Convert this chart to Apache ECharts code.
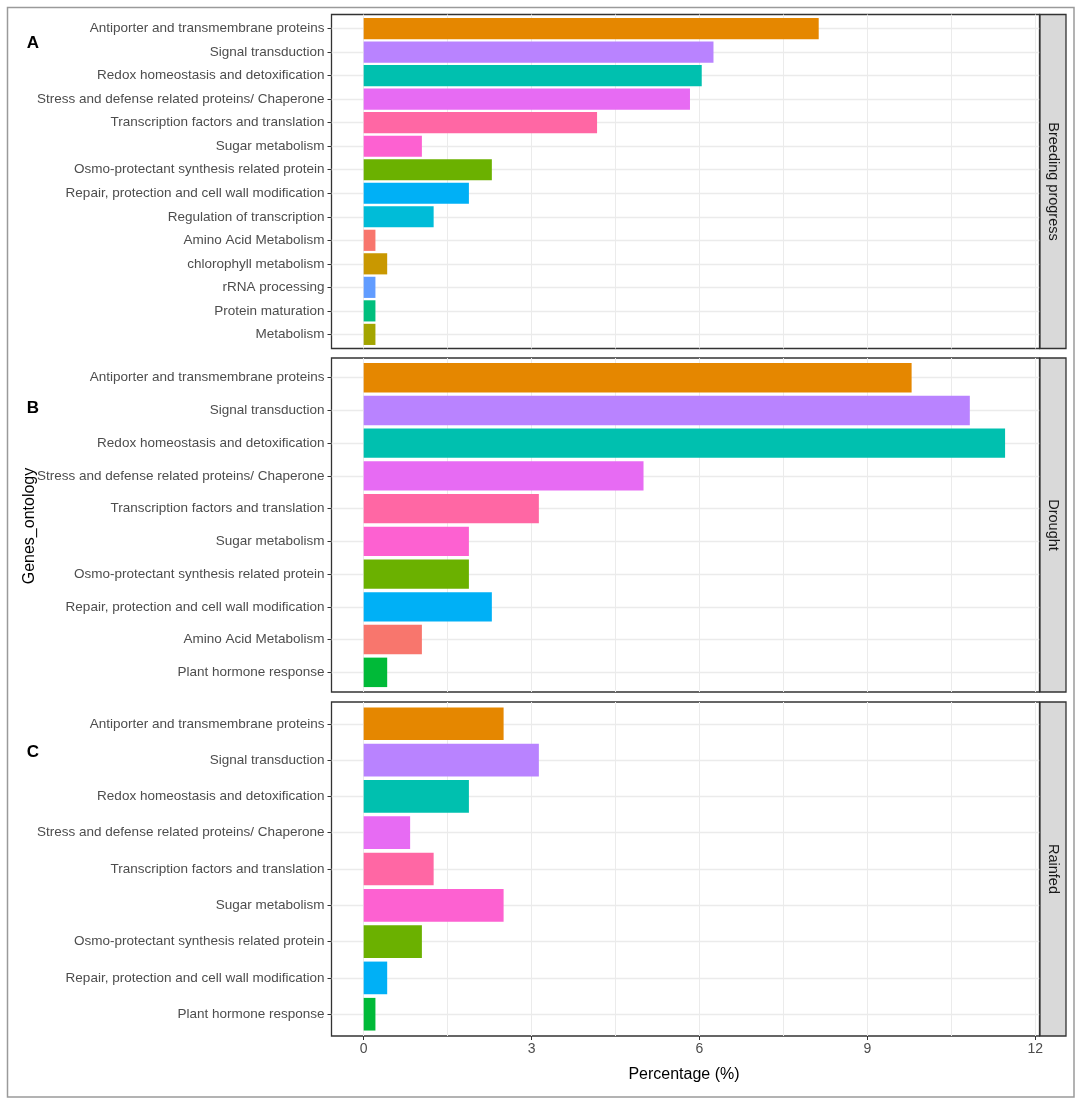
<!DOCTYPE html>
<html><head><meta charset="utf-8">
<script src="https://cdn.jsdelivr.net/npm/echarts@6/dist/echarts.min.js"></script>
<style>html,body{margin:0;padding:0;background:#fff}#c{width:1084px;height:1105px}</style>
</head><body><div id="c"></div>
<script>
// ---------------- data ----------------
const catsBreeding = [
  'Antiporter and transmembrane proteins',
  'Signal transduction',
  'Redox homeostasis and detoxification',
  'Stress and defense related proteins/ Chaperone',
  'Transcription factors and translation',
  'Sugar metabolism',
  'Osmo-protectant synthesis related protein',
  'Repair, protection and cell wall modification',
  'Regulation of transcription',
  'Amino Acid Metabolism',
  'chlorophyll metabolism',
  'rRNA processing',
  'Protein maturation',
  'Metabolism'
];
const valsBreeding = [8.13, 6.25, 6.04, 5.83, 4.17, 1.04, 2.29, 1.88, 1.25, 0.21, 0.42, 0.21, 0.21, 0.21];

const catsDrought = [
  'Antiporter and transmembrane proteins',
  'Signal transduction',
  'Redox homeostasis and detoxification',
  'Stress and defense related proteins/ Chaperone',
  'Transcription factors and translation',
  'Sugar metabolism',
  'Osmo-protectant synthesis related protein',
  'Repair, protection and cell wall modification',
  'Amino Acid Metabolism',
  'Plant hormone response'
];
const valsDrought = [9.79, 10.83, 11.46, 5.0, 3.13, 1.88, 1.88, 2.29, 1.04, 0.42];

const catsRainfed = [
  'Antiporter and transmembrane proteins',
  'Signal transduction',
  'Redox homeostasis and detoxification',
  'Stress and defense related proteins/ Chaperone',
  'Transcription factors and translation',
  'Sugar metabolism',
  'Osmo-protectant synthesis related protein',
  'Repair, protection and cell wall modification',
  'Plant hormone response'
];
const valsRainfed = [2.5, 3.13, 1.88, 0.83, 1.25, 2.5, 1.04, 0.42, 0.21];

const facetNames = ['Breeding progress', 'Drought', 'Rainfed'];
const panelLetters = ['A', 'B', 'C'];
const xTickValues = [0, 3, 6, 9, 12];
const xGridValues = [0, 1.5, 3, 4.5, 6, 7.5, 9, 10.5, 12];
const xTitle = 'Percentage (%)';
const yTitle = 'Genes_ontology';

// ---------------- styles ----------------
const colorMap = {
  'Amino Acid Metabolism': '#F8766D',
  'Antiporter and transmembrane proteins': '#E58700',
  'chlorophyll metabolism': '#C99800',
  'Metabolism': '#A3A500',
  'Osmo-protectant synthesis related protein': '#6BB100',
  'Plant hormone response': '#00BA38',
  'Protein maturation': '#00BF7D',
  'Redox homeostasis and detoxification': '#00C0AF',
  'Regulation of transcription': '#00BCD8',
  'Repair, protection and cell wall modification': '#00B0F6',
  'rRNA processing': '#619CFF',
  'Signal transduction': '#B983FF',
  'Stress and defense related proteins/ Chaperone': '#E76BF3',
  'Sugar metabolism': '#FD61D1',
  'Transcription factors and translation': '#FF67A4'
};
const SANS = '"Liberation Sans",Arial,sans-serif';
const XMIN = -0.575, XMAX = 12.075;
const PL = 331.5, PW = 708, PH = 334;
const panelTops = [14.5, 358, 702];
const STRIP_W = 26;

const panels = [
  {cats: catsBreeding, vals: valsBreeding},
  {cats: catsDrought, vals: valsDrought},
  {cats: catsRainfed, vals: valsRainfed}
];

const grid = [], xAxis = [], yAxis = [], series = [], graphic = [];

// outer grids: border + vertical gridlines
panels.forEach((p, i) => {
  grid.push({left: PL, top: panelTops[i], width: PW, height: PH, show: true,
    borderColor: '#333333', borderWidth: 1.3, backgroundColor: 'transparent'});
  xAxis.push({gridIndex: i, type: 'value', min: XMIN, max: XMAX,
    axisLine: {show: false, onZero: false}, axisLabel: {show: false},
    axisTick: {show: false, customValues: xGridValues},
    splitLine: {show: true, lineStyle: {color: '#EBEBEB', width: 1}}});
  yAxis.push({gridIndex: i, type: 'value', show: false, min: 0, max: 1, splitLine: {show: false},
    axisLine: {onZero: false}});
});
// inner grids: bars + categories (ggplot discrete expansion 0.6)
panels.forEach((p, i) => {
  const n = p.cats.length;
  const s = PH / (n + 0.2);
  grid.push({left: PL, top: panelTops[i] + 0.1 * s, width: PW, height: n * s, show: false});
  const gi = 3 + i;
  xAxis.push({gridIndex: gi, type: 'value', min: XMIN, max: XMAX, show: false, splitLine: {show: false},
    axisLine: {onZero: false}});
  yAxis.push({gridIndex: gi, type: 'category', data: p.cats, inverse: true, position: 'left',
    axisLine: {show: false, onZero: false},
    axisTick: {show: true, alignWithLabel: true, length: 4, lineStyle: {color: '#333333', width: 1}},
    axisLabel: {color: '#4D4D4D', fontSize: 13.5, fontFamily: SANS, margin: 7},
    splitLine: {show: true, alignWithLabel: true, lineStyle: {color: '#EBEBEB', width: 1.3}}});
  series.push({type: 'bar', xAxisIndex: gi, yAxisIndex: gi, barCategoryGap: '10%', z: 3,
    data: p.vals.map((v, j) => ({value: v, itemStyle: {color: colorMap[p.cats[j]]}}))});
});
// bottom axis labels/ticks
xAxis.push({gridIndex: 2, type: 'value', min: XMIN, max: XMAX, position: 'bottom',
  axisLine: {show: false, onZero: false},
  axisTick: {show: true, length: 4, customValues: xTickValues, lineStyle: {color: '#333333'}},
  axisLabel: {show: true, customValues: xTickValues, color: '#4D4D4D', fontSize: 14, fontFamily: SANS, margin: 6},
  splitLine: {show: false}});

// strips and letters
panels.forEach((p, i) => {
  graphic.push({type: 'rect', shape: {x: PL + PW + 0.5, y: panelTops[i], width: STRIP_W, height: PH},
    style: {fill: '#D9D9D9', stroke: '#333333', lineWidth: 1.3}, z: 10});
  graphic.push({type: 'text', x: PL + PW + 0.5 + STRIP_W / 2, y: panelTops[i] + PH / 2, rotation: -Math.PI / 2,
    style: {text: facetNames[i], fill: '#1A1A1A', font: '14.5px ' + SANS, textAlign: 'center', textVerticalAlign: 'middle'}, z: 11});
});
const letterY = [43, 408, 752];
panelLetters.forEach((t, i) => {
  graphic.push({type: 'text', x: 33, y: letterY[i],
    style: {text: t, fill: '#000', font: 'bold 17px ' + SANS, textAlign: 'center', textVerticalAlign: 'middle'}, z: 11});
});
graphic.push({type: 'text', x: 30, y: 526, rotation: Math.PI / 2,
  style: {text: yTitle, fill: '#000', font: '16px ' + SANS, textAlign: 'center', textVerticalAlign: 'middle'}, z: 11});
graphic.push({type: 'text', x: 684, y: 1075,
  style: {text: xTitle, fill: '#000', font: '16px ' + SANS, textAlign: 'center', textVerticalAlign: 'middle'}, z: 11});
graphic.push({type: 'rect', shape: {x: 7.5, y: 7.5, width: 1066.5, height: 1089.5},
  style: {fill: 'none', stroke: '#9A9A9A', lineWidth: 1.5}, z: 0});

const chart = echarts.init(document.getElementById('c'), null, {renderer: 'canvas'});
chart.setOption({backgroundColor: '#fff', animation: false, grid, xAxis, yAxis, series, graphic});
</script></body></html>
